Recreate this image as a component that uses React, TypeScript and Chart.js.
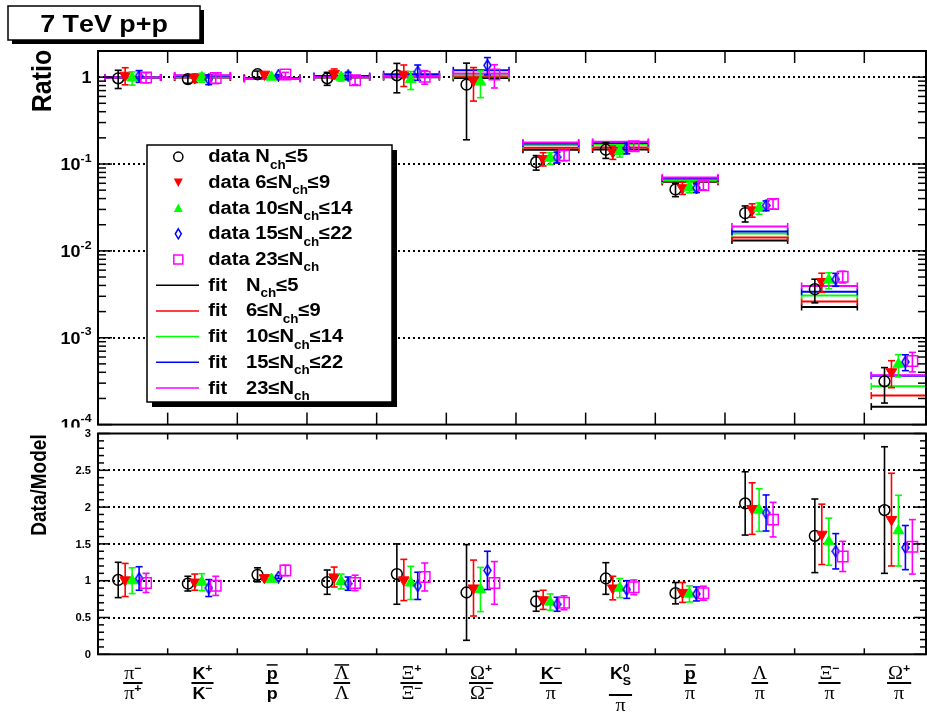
import React, { useEffect, useRef } from 'react';
import { Chart, registerables } from 'chart.js';

Chart.register(...registerables);

// ---------------- data ----------------
const categoryNumerators = ['π^{−}', 'K^{+}', '#bar{p}', '#bar{Λ}', 'Ξ^{+}', 'Ω^{+}', 'K^{−}', 'K^{0}_{S}', '#bar{p}', 'Λ', 'Ξ^{−}', 'Ω^{+}'];
const categoryDenominators = ['π^{+}', 'K^{−}', 'p', 'Λ', 'Ξ^{−}', 'Ω^{−}', 'π', 'π', 'π', 'π', 'π', 'π'];

const seriesLabels = ['N_{ch}≤5', '6≤N_{ch}≤9', '10≤N_{ch}≤14', '15≤N_{ch}≤22', '23≤N_{ch}'];
const seriesColors = ['#000000', '#ff0000', '#00ff00', '#0000ff', '#ff00ff'];

// upper panel: measured ratios
const dataNchLe5 = [0.97, 0.95, 1.08, 0.97, 1.05, 0.82, 0.105, 0.146, 0.051, 0.0272, 0.00362, 0.000315];
const errNchLe5 = [0.23, 0.10, 0.095, 0.165, 0.39, 0.63, 0.020, 0.030, 0.0089, 0.0057, 0.0011, 0.000138];
const dataNch6to9 = [1.05, 0.98, 1.08, 1.10, 1.08, 0.91, 0.115, 0.137, 0.0532, 0.0296, 0.00443, 0.000405];
const errNch6to9 = [0.234, 0.11, 0.031, 0.142, 0.30, 0.38, 0.020, 0.024, 0.0085, 0.0052, 0.0011, 0.000139];
const dataNch10to14 = [0.98, 0.99, 1.0, 1.0, 0.94, 0.88, 0.117, 0.140, 0.0538, 0.031, 0.00463, 0.000496];
const errNch10to14 = [0.17, 0.116, 0.02, 0.10, 0.22, 0.30, 0.018, 0.020, 0.0072, 0.0046, 0.00097, 0.000142];
const dataNch15to22 = [1.03, 0.94, 1.05, 1.04, 1.15, 1.37, 0.120, 0.152, 0.053, 0.0333, 0.00471, 0.000527];
const errNch15to22 = [0.16, 0.12, 0.02, 0.098, 0.23, 0.31, 0.017, 0.021, 0.0061, 0.0043, 0.0008, 0.000109];
const dataNchGe23 = [0.99, 0.98, 1.07, 0.92, 1.01, 1.07, 0.126, 0.160, 0.057, 0.0347, 0.00505, 0.000541];
const errNchGe23 = [0.13, 0.137, 0.065, 0.10, 0.18, 0.32, 0.017, 0.018, 0.0065, 0.0044, 0.00078, 0.000137];

// upper panel: fit (model) values
const fitNchLe5 = [0.99, 0.99, 0.98, 0.99, 1.0, 0.98, 0.146, 0.147, 0.0623, 0.0132, 0.00226, 0.000161];
const fitNch6to9 = [0.99, 1.0, 0.98, 1.0, 1.02, 1.01, 0.154, 0.155, 0.0635, 0.0143, 0.00262, 0.000216];
const fitNch10to14 = [0.99, 1.02, 0.97, 1.0, 1.02, 1.05, 0.166, 0.168, 0.065, 0.0159, 0.00306, 0.000276];
const fitNch15to22 = [0.99, 1.04, 0.97, 1.03, 1.08, 1.2, 0.172, 0.175, 0.068, 0.01675, 0.00338, 0.000365];
const fitNchGe23 = [0.99, 1.05, 0.95, 1.0, 1.03, 1.1, 0.177, 0.18, 0.070, 0.0191, 0.00395, 0.000371];

// lower panel: data / model
const ratioNchLe5 = [1.01, 0.96, 1.08, 0.98, 1.09, 0.84, 0.72, 1.03, 0.83, 2.05, 1.61, 1.96];
const ratioErrNchLe5 = [0.24, 0.10, 0.095, 0.165, 0.41, 0.65, 0.135, 0.215, 0.145, 0.43, 0.50, 0.86];
const ratioNch6to9 = [1.01, 0.98, 1.04, 1.05, 1.01, 0.90, 0.74, 0.90, 0.84, 1.98, 1.63, 1.83];
const ratioErrNch6to9 = [0.225, 0.11, 0.03, 0.135, 0.28, 0.38, 0.13, 0.16, 0.135, 0.35, 0.41, 0.63];
const ratioNch10to14 = [1.0, 0.98, 1.02, 0.99, 0.97, 0.88, 0.71, 0.90, 0.82, 1.96, 1.53, 1.68];
const ratioErrNch10to14 = [0.175, 0.115, 0.02, 0.10, 0.225, 0.30, 0.11, 0.13, 0.11, 0.29, 0.32, 0.48];
const ratioNch15to22 = [1.03, 0.90, 1.05, 0.96, 0.93, 1.14, 0.68, 0.88, 0.82, 1.92, 1.40, 1.45];
const ratioErrNch15to22 = [0.16, 0.115, 0.02, 0.09, 0.185, 0.26, 0.095, 0.12, 0.095, 0.245, 0.24, 0.30];
const ratioNchGe23 = [0.97, 0.93, 1.14, 0.97, 1.05, 0.97, 0.70, 0.91, 0.83, 1.83, 1.33, 1.46];
const ratioErrNchGe23 = [0.13, 0.13, 0.07, 0.105, 0.19, 0.29, 0.095, 0.10, 0.095, 0.235, 0.205, 0.37];

const upperDecades = [0, -1, -2, -3, -4];
const lowerTickValues = [0, 0.5, 1, 1.5, 2, 2.5, 3];
const lowerTickLabels = ['0', '0.5', '1', '1.5', '2', '2.5', '3'];
const titleText = '7 TeV p+p';

const dataSeries = [dataNchLe5, dataNch6to9, dataNch10to14, dataNch15to22, dataNchGe23];
const errSeries = [errNchLe5, errNch6to9, errNch10to14, errNch15to22, errNchGe23];
const fitSeries = [fitNchLe5, fitNch6to9, fitNch10to14, fitNch15to22, fitNchGe23];
const ratioSeries = [ratioNchLe5, ratioNch6to9, ratioNch10to14, ratioNch15to22, ratioNchGe23];
const ratioErrSeries = [ratioErrNchLe5, ratioErrNch6to9, ratioErrNch10to14, ratioErrNch15to22, ratioErrNchGe23];

// ---------------- layout constants ----------------
const W = 927;
const H = 714;
const X_MAX = 11.9;
const SX = 1.12; // horizontal stretch of text
const SANS = '"Liberation Sans", Arial, sans-serif';
const SERIF = '"Liberation Serif", "Times New Roman", serif';
const seriesOffset = (k: number) => 0.29 + 0.1 * k;

// ---------------- rich text ----------------
type Seg = { text: string; kind: 'base' | 'sup' | 'sub'; bar?: boolean };
function parseRich(s: string): Seg[] {
  const out: Seg[] = [];
  let i = 0;
  const group = (start: number) => {
    const end = s.indexOf('}', start);
    return { text: s.slice(start + 1, end), next: end + 1 };
  };
  while (i < s.length) {
    if (s.startsWith('#bar{', i)) {
      const g = group(i + 4);
      out.push({ text: g.text, kind: 'base', bar: true });
      i = g.next;
    } else if (s[i] === '^' || s[i] === '_') {
      const g = group(i + 1);
      out.push({ text: g.text, kind: s[i] === '^' ? 'sup' : 'sub' });
      i = g.next;
    } else {
      let j = i;
      while (j < s.length && s[j] !== '^' && s[j] !== '_' && !s.startsWith('#bar{', j)) j++;
      out.push({ text: s.slice(i, j), kind: 'base' });
      i = j;
    }
  }
  return out;
}
const isGreek = (c: string) => /[\u0370-\u03FF]/.test(c);
function setFont(ctx: CanvasRenderingContext2D, ch: string, size: number) {
  if (isGreek(ch)) ctx.font = `${Math.round(size * 1.15)}px ${SERIF}`;
  else ctx.font = `bold ${size}px ${SANS}`;
}
type RichOpts = { supDy: number; subDy: number; scale: number };
const defaultRich: RichOpts = { supDy: -0.45, subDy: 0.35, scale: 0.68 };
function layoutRich(ctx: CanvasRenderingContext2D, s: string, size: number, o: RichOpts = defaultRich) {
  const segs = parseRich(s);
  const glyphs: { ch: string; x: number; dy: number; size: number }[] = [];
  const bars: { x0: number; x1: number; dy: number; size: number }[] = [];
  let x = 0;
  let supStart = 0;
  let supW = 0;
  let prev = '';
  for (const sg of segs) {
    const sz = sg.kind === 'base' ? size : Math.round(size * o.scale);
    const dy = sg.kind === 'sup' ? o.supDy * size : sg.kind === 'sub' ? o.subDy * size : 0;
    const stacked = sg.kind === 'sub' && prev === 'sup';
    const sx = stacked ? supStart : x;
    let cx = sx;
    for (const ch of sg.text) {
      setFont(ctx, ch, sz);
      glyphs.push({ ch, x: cx, dy, size: sz });
      cx += ctx.measureText(ch).width;
    }
    const w = cx - sx;
    if (sg.bar) bars.push({ x0: sx, x1: cx, dy, size: sz });
    x = stacked ? sx + Math.max(supW, w) : cx;
    if (sg.kind === 'sup') {
      supStart = sx;
      supW = w;
    }
    prev = sg.kind;
  }
  return { glyphs, bars, width: x };
}
function richWidth(ctx: CanvasRenderingContext2D, s: string, size: number, o: RichOpts = defaultRich) {
  return layoutRich(ctx, s, size, o).width * SX;
}
function drawRich(
  ctx: CanvasRenderingContext2D,
  s: string,
  x: number,
  y: number,
  size: number,
  align: 'left' | 'center' | 'right' = 'left',
  o: RichOpts = defaultRich
) {
  const L = layoutRich(ctx, s, size, o);
  const w = L.width * SX;
  const x0 = align === 'left' ? x : align === 'center' ? x - w / 2 : x - w;
  ctx.save();
  ctx.translate(x0, y);
  ctx.scale(SX, 1);
  ctx.fillStyle = '#000';
  ctx.textAlign = 'left';
  ctx.textBaseline = 'alphabetic';
  for (const g of L.glyphs) {
    setFont(ctx, g.ch, g.size);
    ctx.fillText(g.ch, g.x, g.dy);
  }
  ctx.strokeStyle = '#000';
  ctx.lineWidth = 1.5;
  for (const b of L.bars) {
    const by = b.dy - b.size * 0.88;
    ctx.beginPath();
    ctx.moveTo(b.x0, by);
    ctx.lineTo(b.x1, by);
    ctx.stroke();
  }
  ctx.restore();
  return w;
}
function drawRotated(ctx: CanvasRenderingContext2D, text: string, cx: number, cy: number, size: number) {
  ctx.save();
  ctx.translate(cx, cy);
  ctx.scale(SX, 1);
  ctx.rotate(-Math.PI / 2);
  ctx.font = `bold ${size}px ${SANS}`;
  ctx.fillStyle = '#000';
  ctx.textAlign = 'center';
  ctx.textBaseline = 'middle';
  ctx.fillText(text, 0, 0);
  ctx.restore();
}

// ---------------- drawing helpers ----------------
function seg(ctx: CanvasRenderingContext2D, x1: number, y1: number, x2: number, y2: number) {
  ctx.beginPath();
  ctx.moveTo(x1, y1);
  ctx.lineTo(x2, y2);
  ctx.stroke();
}
function drawLegendMarker(ctx: CanvasRenderingContext2D, k: number, x: number, y: number) {
  const c = seriesColors[k];
  ctx.save();
  ctx.strokeStyle = c;
  ctx.fillStyle = c;
  ctx.lineWidth = 1.5;
  ctx.beginPath();
  if (k === 0) {
    ctx.arc(x, y, 4.6, 0, Math.PI * 2);
    ctx.stroke();
  } else if (k === 1) {
    ctx.moveTo(x - 4.5, y - 4);
    ctx.lineTo(x + 4.5, y - 4);
    ctx.lineTo(x, y + 4.5);
    ctx.closePath();
    ctx.fill();
  } else if (k === 2) {
    ctx.moveTo(x - 4.5, y + 4);
    ctx.lineTo(x + 4.5, y + 4);
    ctx.lineTo(x, y - 4.5);
    ctx.closePath();
    ctx.fill();
  } else if (k === 3) {
    ctx.moveTo(x, y - 5);
    ctx.lineTo(x + 3, y);
    ctx.lineTo(x, y + 5);
    ctx.lineTo(x - 3, y);
    ctx.closePath();
    ctx.stroke();
  } else {
    ctx.rect(x - 4.5, y - 4.5, 9, 9);
    ctx.stroke();
  }
  ctx.restore();
}
function drawErrorBars(chart: any, ds: any) {
  const { ctx, scales } = chart;
  const xs = scales.x;
  const ys = scales.y;
  ctx.save();
  ctx.strokeStyle = ds.errColor;
  ctx.lineWidth = 1.6;
  ds.data.forEach((p: any, j: number) => {
    const e = ds.errors[j];
    const px = xs.getPixelForValue(p.x);
    const lo = Math.max(p.y - e, ys.min);
    const y1 = ys.getPixelForValue(p.y + e);
    const y2 = ys.getPixelForValue(lo);
    seg(ctx, px, y1, px, y2);
    seg(ctx, px - 3.5, y1, px + 3.5, y1);
    seg(ctx, px - 3.5, y2, px + 3.5, y2);
  });
  ctx.restore();
}

function markerProps(k: number, diamond: HTMLCanvasElement) {
  const c = seriesColors[k];
  const clear = 'rgba(0,0,0,0)';
  if (k === 0) return { pointStyle: 'circle', pointRadius: 5.4, pointBorderWidth: 1.5, pointBorderColor: c, pointBackgroundColor: clear };
  if (k === 1) return { pointStyle: 'triangle', pointRotation: 180, pointRadius: 6.2, pointBorderWidth: 1, pointBorderColor: c, pointBackgroundColor: c };
  if (k === 2) return { pointStyle: 'triangle', pointRotation: 0, pointRadius: 6.2, pointBorderWidth: 1, pointBorderColor: c, pointBackgroundColor: c };
  if (k === 3) return { pointStyle: diamond, pointRadius: 5, pointBorderWidth: 0, pointBorderColor: c, pointBackgroundColor: c };
  return { pointStyle: 'rect', pointRadius: 7.4, pointBorderWidth: 1.5, pointBorderColor: c, pointBackgroundColor: clear };
}
function makeDiamond(color: string) {
  const c = document.createElement('canvas');
  c.width = 9;
  c.height = 13;
  const g = c.getContext('2d')!;
  g.strokeStyle = color;
  g.lineWidth = 1.5;
  g.beginPath();
  g.moveTo(4.5, 1);
  g.lineTo(8, 6.5);
  g.lineTo(4.5, 12);
  g.lineTo(1, 6.5);
  g.closePath();
  g.stroke();
  return c;
}

// ---------------- plugins ----------------
const upperPlugin = {
  id: 'upperDecor',
  beforeDatasetsDraw(chart: any) {
    const { ctx, chartArea: a, scales } = chart;
    ctx.save();
    ctx.strokeStyle = '#000';
    ctx.lineWidth = 2;
    ctx.setLineDash([2, 3]);
    for (const e of upperDecades) {
      if (e === -4) continue;
      const py = Math.round(scales.y.getPixelForValue(Math.pow(10, e)));
      seg(ctx, a.left, py, a.right, py);
    }
    ctx.restore();
  },
  beforeDatasetDraw(chart: any, args: any) {
    const ds = chart.data.datasets[args.index];
    if (ds.errors) drawErrorBars(chart, ds);
  },
  afterDatasetDraw(chart: any, args: any) {
    const ds = chart.data.datasets[args.index];
    if (!ds.fitCaps) return;
    const { ctx, scales } = chart;
    ctx.save();
    ctx.strokeStyle = ds.borderColor;
    ctx.lineWidth = 1.6;
    ds.data.forEach((p: any) => {
      if (p.y == null) return;
      const px = scales.x.getPixelForValue(p.x);
      const py = scales.y.getPixelForValue(p.y);
      seg(ctx, px, py - 3.5, px, py + 3.5);
    });
    ctx.restore();
  },
  afterDraw(chart: any) {
    const { ctx, chartArea: a, scales } = chart;
    const xs = scales.x;
    const ys = scales.y;
    const right = a.right - 1;
    ctx.save();
    ctx.strokeStyle = '#000';
    // ticks
    ctx.lineWidth = 1.5;
    for (let i = 1; i < 12; i++) {
      const px = xs.getPixelForValue(i);
      if (px > right) continue;
      seg(ctx, px, a.top, px, a.top + 12);
      seg(ctx, px, a.bottom - 12, px, a.bottom);
    }
    for (const e of upperDecades) {
      const base = Math.pow(10, e);
      const py = ys.getPixelForValue(base);
      seg(ctx, a.left, py, a.left + 14, py);
      seg(ctx, right - 14, py, right, py);
      for (let m = 2; m <= 9; m++) {
        const v = m * base;
        if (v > ys.max) break;
        const q = ys.getPixelForValue(v);
        seg(ctx, a.left, q, a.left + 8, q);
        seg(ctx, right - 8, q, right, q);
      }
    }
    // frame
    ctx.lineWidth = 2;
    ctx.strokeRect(a.left, a.top, right - a.left, a.bottom - a.top);
    ctx.restore();

    // y labels
    const tickOpts = { supDy: -0.52, subDy: 0, scale: 0.68 };
    for (const e of upperDecades) {
      const py = ys.getPixelForValue(Math.pow(10, e));
      const label = e === 0 ? '1' : `10^{-${-e}}`;
      drawRich(ctx, label, 91.5, py + 6, 16, 'right', tickOpts);
    }
    drawRotated(ctx, 'Ratio', 43, 81, 25);

    // title box
    ctx.save();
    ctx.fillStyle = '#000';
    ctx.fillRect(12, 10, 192, 34);
    ctx.fillStyle = '#fff';
    ctx.fillRect(8, 6, 192, 34);
    ctx.strokeStyle = '#000';
    ctx.lineWidth = 1.5;
    ctx.strokeRect(8, 6, 192, 34);
    ctx.restore();
    drawRich(ctx, titleText, 104, 32, 24, 'center');

    // legend
    const lx = 147;
    const ly = 145;
    const lw = 245;
    const lh = 257;
    ctx.save();
    ctx.fillStyle = '#000';
    ctx.fillRect(lx + 5, ly + 5, lw, lh);
    ctx.fillStyle = '#fff';
    ctx.fillRect(lx, ly, lw, lh);
    ctx.strokeStyle = '#000';
    ctx.lineWidth = 1.5;
    ctx.strokeRect(lx, ly, lw, lh);
    ctx.restore();
    const legOpts = { supDy: -0.45, subDy: 0.36, scale: 0.68 };
    for (let r = 0; r < 10; r++) {
      const ry = 156.7 + 25.7 * r;
      if (r < 5) {
        drawLegendMarker(ctx, r, 178.3, ry);
        drawRich(ctx, 'data ' + seriesLabels[r], 208.3, ry + 5.5, 18, 'left', legOpts);
      } else {
        const k = r - 5;
        ctx.save();
        ctx.strokeStyle = seriesColors[k];
        ctx.lineWidth = 1.5;
        seg(ctx, 156, ry, 199, ry);
        ctx.restore();
        drawRich(ctx, 'fit', 208.3, ry + 5.5, 18, 'left', legOpts);
        drawRich(ctx, seriesLabels[k], 246, ry + 5.5, 18, 'left', legOpts);
      }
    }
  },
};

const lowerPlugin = {
  id: 'lowerDecor',
  beforeDraw(chart: any) {
    const { ctx } = chart;
    ctx.save();
    ctx.fillStyle = '#fff';
    ctx.fillRect(0, 427.5, W, H - 427.5);
    ctx.restore();
  },
  beforeDatasetsDraw(chart: any) {
    const { ctx, chartArea: a, scales } = chart;
    ctx.save();
    ctx.strokeStyle = '#000';
    ctx.lineWidth = 2;
    ctx.setLineDash([2, 3]);
    for (const v of lowerTickValues) {
      if (v === 0 || v === 3) continue;
      const py = Math.round(scales.y.getPixelForValue(v));
      seg(ctx, a.left, py, a.right, py);
    }
    ctx.restore();
  },
  beforeDatasetDraw(chart: any, args: any) {
    const ds = chart.data.datasets[args.index];
    if (ds.errors) drawErrorBars(chart, ds);
  },
  afterDraw(chart: any) {
    const { ctx, chartArea: a, scales } = chart;
    const xs = scales.x;
    const ys = scales.y;
    const right = a.right - 1;
    ctx.save();
    ctx.strokeStyle = '#000';
    ctx.lineWidth = 1.5;
    for (let i = 1; i < 12; i++) {
      const px = xs.getPixelForValue(i);
      seg(ctx, px, a.top, px, a.top + 6);
      seg(ctx, px, a.bottom - 6, px, a.bottom);
    }
    for (let t = 0; t <= 30; t++) {
      const v = t / 10;
      const py = ys.getPixelForValue(v);
      const len = t % 5 === 0 ? 12 : 6;
      seg(ctx, a.left, py, a.left + len, py);
      seg(ctx, right - len, py, right, py);
    }
    ctx.lineWidth = 2;
    ctx.strokeRect(a.left, a.top, right - a.left, a.bottom - a.top);
    ctx.restore();

    lowerTickValues.forEach((v, i) => {
      const py = ys.getPixelForValue(v);
      drawRich(ctx, lowerTickLabels[i], 91, py + 3.6, 10, 'right');
    });
    drawRotated(ctx, 'Data/Model', 40.5, 485, 19);

    // category fraction labels
    for (let i = 0; i < categoryNumerators.length; i++) {
      const cx = xs.getPixelForValue(i + 0.5);
      const num = categoryNumerators[i];
      const den = categoryDenominators[i];
      const hasSub = num.includes('_{');
      const numBase = 679;
      const barY = hasSub ? 695 : 683;
      const denBase = barY + 16;
      const wn = richWidth(ctx, num, 16);
      const wd = richWidth(ctx, den, 16);
      drawRich(ctx, num, cx, numBase, 16, 'center');
      drawRich(ctx, den, cx, denBase, 16, 'center');
      const bw = Math.max(wn, wd) + 2;
      ctx.save();
      ctx.strokeStyle = '#000';
      ctx.lineWidth = 2;
      seg(ctx, cx - bw / 2, barY, cx + bw / 2, barY);
      ctx.restore();
    }
  },
};

// ---------------- component ----------------
export default function App() {
  const topRef = useRef<HTMLCanvasElement>(null);
  const botRef = useRef<HTMLCanvasElement>(null);

  useEffect(() => {
    const diamond = makeDiamond(seriesColors[3]);
    const cats = categoryNumerators.map((_, i) => i);

    const upperDatasets: any[] = [];
    fitSeries.forEach((vals, k) => {
      const pts: any[] = [];
      vals.forEach((v, i) => {
        pts.push({ x: i + 0.1, y: v }, { x: i + 0.9, y: v }, { x: i + 0.95, y: null });
      });
      upperDatasets.push({
        label: 'fit ' + seriesLabels[k],
        data: pts,
        showLine: true,
        spanGaps: false,
        borderColor: seriesColors[k],
        borderWidth: 2,
        pointRadius: 0,
        fitCaps: true,
        order: 20 - k,
      });
    });
    dataSeries.forEach((vals, k) => {
      upperDatasets.push({
        label: 'data ' + seriesLabels[k],
        data: cats.map((i) => ({ x: i + seriesOffset(k), y: vals[i] })),
        errors: errSeries[k],
        errColor: seriesColors[k],
        showLine: false,
        order: 10 - k,
        ...markerProps(k, diamond),
      });
    });

    const lowerDatasets: any[] = ratioSeries.map((vals, k) => ({
      label: 'ratio ' + seriesLabels[k],
      data: cats.map((i) => ({ x: i + seriesOffset(k), y: vals[i] })),
      errors: ratioErrSeries[k],
      errColor: seriesColors[k],
      showLine: false,
      order: 10 - k,
      ...markerProps(k, diamond),
    }));

    const common = {
      responsive: false,
      animation: false as const,
      devicePixelRatio: 1,
      events: [] as any[],
      plugins: { legend: { display: false }, tooltip: { enabled: false } },
    };

    const c1 = new Chart(topRef.current!, {
      type: 'scatter',
      data: { datasets: upperDatasets },
      options: {
        ...common,
        layout: { autoPadding: false, padding: { left: 98, top: 51, right: 0, bottom: H - 424.6 } },
        scales: {
          x: { type: 'linear', min: 0, max: X_MAX, display: false },
          y: { type: 'logarithmic', min: 1e-4, max: 2, display: false },
        },
      } as any,
      plugins: [upperPlugin],
    });
    const c2 = new Chart(botRef.current!, {
      type: 'scatter',
      data: { datasets: lowerDatasets },
      options: {
        ...common,
        layout: { autoPadding: false, padding: { left: 98, top: 433.5, right: 0, bottom: H - 654.3 } },
        scales: {
          x: { type: 'linear', min: 0, max: X_MAX, display: false },
          y: { type: 'linear', min: 0, max: 3, display: false },
        },
      } as any,
      plugins: [lowerPlugin],
    });
    return () => {
      c1.destroy();
      c2.destroy();
    };
  }, []);

  const cstyle: React.CSSProperties = { position: 'absolute', left: 0, top: 0, width: W, height: H, display: 'block' };
  return (
    <div style={{ position: 'absolute', left: 0, top: 0, width: W, height: H, background: '#fff', overflow: 'hidden' }}>
      <canvas ref={topRef} width={W} height={H} style={cstyle} />
      <canvas ref={botRef} width={W} height={H} style={cstyle} />
    </div>
  );
}
